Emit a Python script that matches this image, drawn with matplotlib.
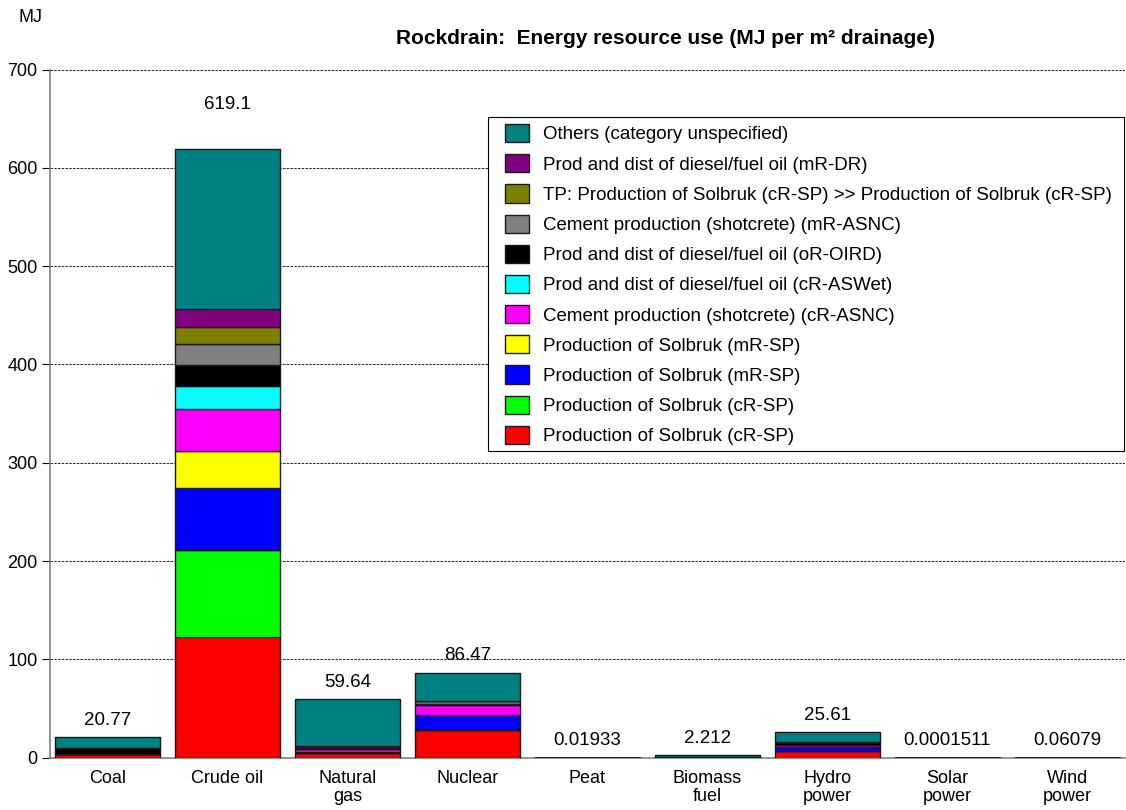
import numpy as np
import matplotlib
matplotlib.use("Agg")
import matplotlib.pyplot as plt
from matplotlib.patches import Rectangle

plt.rcParams['font.family'] = ['Liberation Sans', 'DejaVu Sans']

#
# data (MJ per m2 drainage)
#
categories = ['Coal', 'Crude oil', 'Natural\ngas', 'Nuclear', 'Peat',
              'Biomass\nfuel', 'Hydro\npower', 'Solar\npower', 'Wind\npower']
total_labels = ['20.77', '619.1', '59.64', '86.47', '0.01933',
                '2.212', '25.61', '0.0001511', '0.06079']
totals = [20.77, 619.1, 59.64, 86.47, 0.01933, 2.212, 25.61, 0.0001511, 0.06079]

# stacked from bottom to top
red_solbruk_cr = [3.5, 122.7, 5.0, 28.0, 0, 0, 7.0, 0, 0]
green_solbruk_cr = [0, 88.1, 0, 0, 0, 0, 0, 0, 0]
blue_solbruk_mr = [0.3, 63.1, 0.8, 15.6, 0, 0, 4.0, 0, 0]
yellow_solbruk_mr = [0, 37.7, 0, 0, 0, 0, 0, 0, 0]
magenta_cement_cr = [0.3, 42.7, 2.5, 10.2, 0, 0, 1.8, 0, 0]
cyan_diesel_cr = [0, 24.0, 0.3, 0.3, 0, 0, 0.5, 0, 0]
black_diesel_or = [5.2, 21.1, 1.5, 0.8, 0.01933, 0.2, 2.5, 0.0001511, 0.06079]
grey_cement_mr = [0, 21.4, 1.0, 3.0, 0, 0, 0, 0, 0]
olive_tp_solbruk = [0, 17.6, 0, 0, 0, 0, 0, 0, 0]
purple_diesel_mr = [0, 17.7, 0.7, 0, 0, 0, 0, 0, 0]
teal_others = [11.47, 163.0, 47.84, 28.57, 0, 2.012, 9.81, 0, 0]

series = [
    (red_solbruk_cr, '#ff0000', 'Production of Solbruk (cR-SP)'),
    (green_solbruk_cr, '#00ff00', 'Production of Solbruk (cR-SP)'),
    (blue_solbruk_mr, '#0000ff', 'Production of Solbruk (mR-SP)'),
    (yellow_solbruk_mr, '#ffff00', 'Production of Solbruk (mR-SP)'),
    (magenta_cement_cr, '#ff00ff', 'Cement production (shotcrete) (cR-ASNC)'),
    (cyan_diesel_cr, '#00ffff', 'Prod and dist of diesel/fuel oil (cR-ASWet)'),
    (black_diesel_or, '#000000', 'Prod and dist of diesel/fuel oil (oR-OIRD)'),
    (grey_cement_mr, '#808080', 'Cement production (shotcrete) (mR-ASNC)'),
    (olive_tp_solbruk, '#808000', 'TP: Production of Solbruk (cR-SP) >> Production of Solbruk (cR-SP)'),
    (purple_diesel_mr, '#800080', 'Prod and dist of diesel/fuel oil (mR-DR)'),
    (teal_others, '#008080', 'Others (category unspecified)'),
]

# value label gap above each bar (points); the crude oil label sits higher
label_gap = [6, 26, 6, 6, 6, 6, 6, 6, 6]

W, H = 1126, 810

#
# plot
#
fig = plt.figure(figsize=(W / 100, H / 100), dpi=100)
ax = fig.add_axes([50 / W, 52.4 / H, 1075 / W, 688 / H])

x = np.arange(len(categories))
bottom = np.zeros(len(categories))
handles = []
for values, color, label in series:
    b = ax.bar(x, values, width=0.875, bottom=bottom, color=color,
               edgecolor='#1a1a1a', linewidth=1.0, label=label, zorder=3)
    handles.append(b)
    bottom += np.array(values)

for xi, tot, lab, gap in zip(x, totals, total_labels, label_gap):
    ax.annotate(lab, (xi, tot), xytext=(0, gap), textcoords='offset points',
                ha='center', va='bottom', fontsize=13.5)

ax.set_xlim(-0.48, 8.48)
ax.set_ylim(0, 700)
ax.set_yticks(np.arange(0, 701, 100))
ax.set_xticks(x)
ax.set_xticklabels(categories, fontsize=13, linespacing=1.1)
ax.tick_params(axis='x', length=0, pad=9)
ax.tick_params(axis='y', length=6, width=0.8, labelsize=13, pad=3, color='black')
ax.yaxis.grid(True, linestyle=(0, (3, 1.5)), color='black', linewidth=0.6, zorder=0)
ax.set_axisbelow(True)
for side in ['top', 'right']:
    ax.spines[side].set_visible(False)
ax.spines['left'].set_color('#808080')
ax.spines['bottom'].set_color('#808080')
ax.spines['left'].set_linewidth(1.2)
ax.spines['bottom'].set_linewidth(1.2)

# legend box: white frame drawn by hand, entries placed inside it
frame = Rectangle((488 / W, 1 - 451 / H), 636 / W, 334 / H, transform=fig.transFigure,
                  facecolor='white', edgecolor='black', linewidth=0.8, zorder=4)
fig.patches.append(frame)
leg = fig.legend(handles[::-1], [s[2] for s in series][::-1], loc='upper left',
                 bbox_to_anchor=(505 / W, 1 - 124 / H), fontsize=13.5, frameon=False,
                 handlelength=1.3, handleheight=1.12, labelspacing=0.57,
                 handletextpad=0.75, borderpad=0, borderaxespad=0)
leg.set_zorder(5)

fig.text(18 / W, 1 - 18 / H, 'MJ', fontsize=13, ha='left', va='center')
fig.text(665 / W, 1 - 38 / H, 'Rockdrain:  Energy resource use (MJ per m² drainage)',
         fontsize=15, fontweight='bold', ha='center', va='center')

fig.savefig('out.png', dpi=100)
